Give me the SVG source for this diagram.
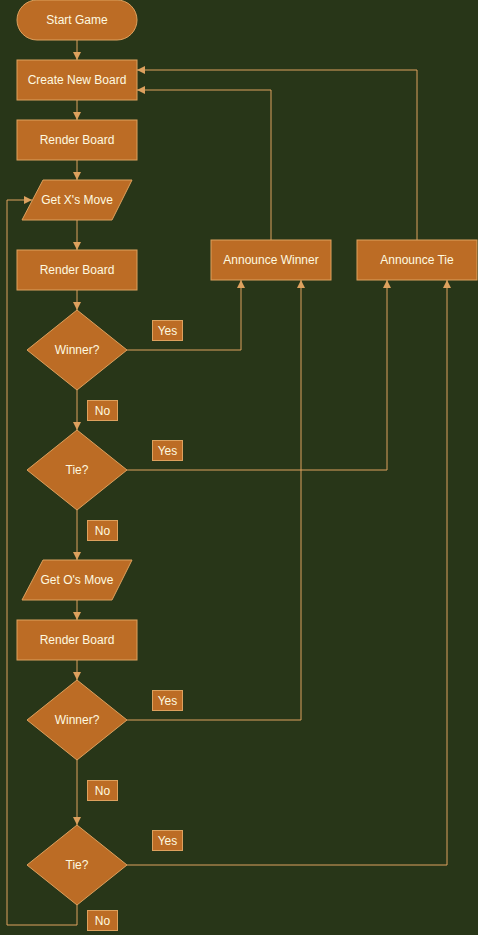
<svg xmlns="http://www.w3.org/2000/svg" width="478" height="935" viewBox="0 0 478 935">
<style>
.n{fill:#bc6c25;stroke:#dda15e;stroke-width:1}
.t{fill:#fefae0;font-family:"Liberation Sans",Arial,sans-serif;font-size:12px;text-anchor:middle}
.e{fill:none;stroke:#dda15e;stroke-width:1}
</style>
<defs>
<marker id="a" viewBox="0 0 10 10" refX="10" refY="5" markerWidth="8" markerHeight="8" markerUnits="userSpaceOnUse" orient="auto">
<path d="M0,0 L10,5 L0,10 z" fill="#dda15e"/>
</marker>
</defs>
<rect width="478" height="935" fill="#283618"/>
<g id="connectors">
<path class="e" d="M77,40 V60" marker-end="url(#a)"/>
<path class="e" d="M77,100 V120" marker-end="url(#a)"/>
<path class="e" d="M77,160 V180" marker-end="url(#a)"/>
<path class="e" d="M77,220 V250" marker-end="url(#a)"/>
<path class="e" d="M77,290 V310" marker-end="url(#a)"/>
<path class="e" d="M127,350 H241 V280" marker-end="url(#a)"/>
<path class="e" d="M77,390 V430" marker-end="url(#a)"/>
<path class="e" d="M127,470 H387 V280" marker-end="url(#a)"/>
<path class="e" d="M77,510 V560" marker-end="url(#a)"/>
<path class="e" d="M77,600 V620" marker-end="url(#a)"/>
<path class="e" d="M77,660 V680" marker-end="url(#a)"/>
<path class="e" d="M127,720 H301 V280" marker-end="url(#a)"/>
<path class="e" d="M77,760 V825" marker-end="url(#a)"/>
<path class="e" d="M127,865 H447 V280" marker-end="url(#a)"/>
<path class="e" d="M77,905 V925 H7 V200 H32" marker-end="url(#a)"/>
<path class="e" d="M271,240 V90 H137" marker-end="url(#a)"/>
<path class="e" d="M417,240 V70 H137" marker-end="url(#a)"/>
</g>
<g id="start"><rect class="n" x="17" y="0" width="120" height="40" rx="20"/><text class="t" x="77" y="24">Start Game</text></g>
<g id="create"><rect class="n" x="17" y="60" width="120" height="40"/><text class="t" x="77" y="84">Create New Board</text></g>
<g id="render1"><rect class="n" x="17" y="120" width="120" height="40"/><text class="t" x="77" y="144">Render Board</text></g>
<g id="getx"><polygon class="n" points="43,180 132,180 112,220 22,220"/><text class="t" x="77" y="204">Get X's Move</text></g>
<g id="render2"><rect class="n" x="17" y="250" width="120" height="40"/><text class="t" x="77" y="274">Render Board</text></g>
<g id="winner1"><polygon class="n" points="77,310 127,350 77,390 27,350"/><text class="t" x="77" y="354">Winner?</text></g>
<g id="tie1"><polygon class="n" points="77,430 127,470 77,510 27,470"/><text class="t" x="77" y="474">Tie?</text></g>
<g id="geto"><polygon class="n" points="43,560 132,560 112,600 22,600"/><text class="t" x="77" y="584">Get O's Move</text></g>
<g id="render3"><rect class="n" x="17" y="620" width="120" height="40"/><text class="t" x="77" y="644">Render Board</text></g>
<g id="winner2"><polygon class="n" points="77,680 127,720 77,760 27,720"/><text class="t" x="77" y="724">Winner?</text></g>
<g id="tie2"><polygon class="n" points="77,825 127,865 77,905 27,865"/><text class="t" x="77" y="869">Tie?</text></g>
<g id="annwin"><rect class="n" x="211" y="240" width="120" height="40"/><text class="t" x="271" y="264">Announce Winner</text></g>
<g id="anntie"><rect class="n" x="357" y="240" width="120" height="40"/><text class="t" x="417" y="264">Announce Tie</text></g>
<g id="labels">
<rect class="n" x="152.5" y="320.5" width="30" height="20"/><text class="t" x="167.5" y="335">Yes</text>
<rect class="n" x="87.5" y="400.5" width="30" height="20"/><text class="t" x="102.5" y="415">No</text>
<rect class="n" x="152.5" y="440.5" width="30" height="20"/><text class="t" x="167.5" y="455">Yes</text>
<rect class="n" x="87.5" y="520.5" width="30" height="20"/><text class="t" x="102.5" y="535">No</text>
<rect class="n" x="152.5" y="690.5" width="30" height="20"/><text class="t" x="167.5" y="705">Yes</text>
<rect class="n" x="87.5" y="780.5" width="30" height="20"/><text class="t" x="102.5" y="795">No</text>
<rect class="n" x="152.5" y="830.5" width="30" height="20"/><text class="t" x="167.5" y="845">Yes</text>
<rect class="n" x="87.5" y="910.5" width="30" height="20"/><text class="t" x="102.5" y="925">No</text>
</g>
</svg>
